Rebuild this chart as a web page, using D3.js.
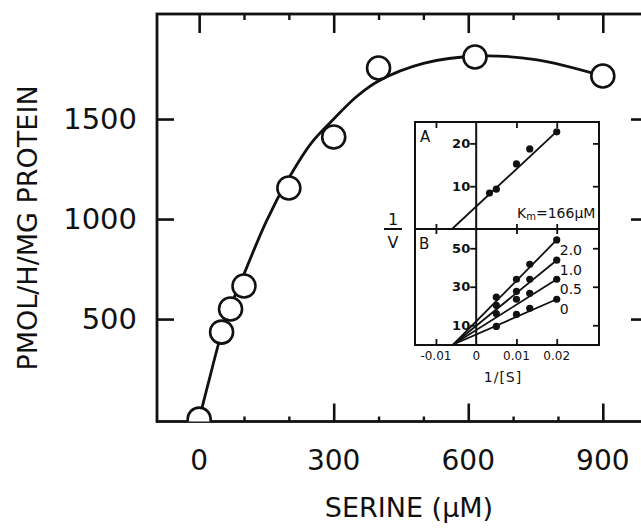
<!DOCTYPE html>
<html><head><meta charset="utf-8">
<script src="https://cdn.jsdelivr.net/npm/d3@7"></script>
<style>body{margin:0;background:#fff}svg{display:block}text{font-family:"DejaVu Sans",sans-serif;fill:#111}</style>
</head><body>
<svg id="c" width="641" height="531"></svg>
<script>
// ---- main plot data ----
const serine = [0, 50, 70, 100, 200, 300, 400, 615, 900];
const activity = [0, 435, 550, 665, 1155, 1410, 1755, 1810, 1715];
const curveSerine = [0, 25, 50, 75, 100, 150, 200, 250, 300, 350, 400, 500, 620, 750, 900];
const curveActivity = [0, 220, 430, 590, 725, 990, 1205, 1380, 1500, 1610, 1690, 1778, 1815, 1797, 1715];
const xMajorTicks = [0, 300, 600, 900];
const xMinorTicks = [100, 200, 400, 500, 700, 800];
const yMajorTicks = [500, 1000, 1500];
const xTickLabels = ["0", "300", "600", "900"];
const yTickLabels = ["500", "1000", "1500"];

// ---- inset panel A ----
const invSA = [0.0033, 0.005, 0.01, 0.0133, 0.02];
const invVA = [8.4, 9.3, 15.2, 18.7, 22.7];
const lineAX = [-0.006, 0.0205];
const lineAY = [0, 23.2];
// ---- inset panel B ----
const invSB = [0.005, 0.01, 0.0133, 0.02];
const seriesB = {
  "2.0": [24.6, 33.9, 41.7, 54.3],
  "1.0": [20.3, 27.6, 33.9, 43.8],
  "0.5": [16.0, 23.5, 26.6, 33.9],
  "0":   [9.4, 15.6, 18.8, 23.5]
};
const bNames = ["2.0", "1.0", "0.5", "0"];
const lineBStart = -0.0057;
const insetXTicks = [-0.01, 0.01, 0.02];
const insetXLabelVals = [-0.01, 0, 0.01, 0.02];
const insetXLabels = ["-0.01", "0", "0.01", "0.02"];
const insetATicks = [10, 20];
const insetBTicks = [10, 30, 50];

const svg = d3.select('#c');
const L = 157, R = 649, T = 14, B = 421.5;
const x = d3.scaleLinear().domain([-94, 1003]).range([L, R]);
const y = d3.scaleLinear().domain([-12, 2025]).range([B, T]);

const ink = "#111";
function styleAxis(g, w) {
  g.select(".domain").remove();
  g.selectAll(".tick line").attr("stroke", ink).attr("stroke-width", w);
  g.selectAll(".tick text").remove();
}

// clip
svg.append("defs").append("clipPath").attr("id", "plotclip")
  .append("rect").attr("x", L).attr("y", T).attr("width", R - L).attr("height", B - T);

// main ticks
svg.append("g").attr("transform", `translate(0,${B})`)
  .call(d3.axisBottom(x).tickValues(xMajorTicks.slice(1)).tickSize(-18).tickSizeOuter(0)).call(g => styleAxis(g, 2.6));
svg.append("g").attr("transform", `translate(0,${B})`)
  .call(d3.axisBottom(x).tickValues(xMinorTicks).tickSize(-5).tickSizeOuter(0)).call(g => styleAxis(g, 2.4));
svg.append("g").attr("transform", `translate(0,${T})`)
  .call(d3.axisTop(x).tickValues(xMajorTicks).tickSize(-19).tickSizeOuter(0)).call(g => styleAxis(g, 2.6));
svg.append("g").attr("transform", `translate(0,${T})`)
  .call(d3.axisTop(x).tickValues(xMinorTicks).tickSize(-6).tickSizeOuter(0)).call(g => styleAxis(g, 2.4));
svg.append("g").attr("transform", `translate(${L},0)`)
  .call(d3.axisLeft(y).tickValues(yMajorTicks).tickSize(-17).tickSizeOuter(0)).call(g => styleAxis(g, 2.6));
svg.append("g").attr("transform", `translate(${R},0)`)
  .call(d3.axisRight(y).tickValues(yMajorTicks).tickSize(-18).tickSizeOuter(0)).call(g => styleAxis(g, 2.6));

// frame
svg.append("rect").attr("x", L).attr("y", T).attr("width", R - L).attr("height", B - T)
  .attr("fill", "none").attr("stroke", ink).attr("stroke-width", 2.8);

// tick labels
svg.selectAll(".xl").data(xMajorTicks).enter().append("text")
  .attr("x", d => x(d)).attr("y", 460).attr("text-anchor", "middle")
  .attr("dominant-baseline", "central").attr("font-size", 28).text((d, i) => xTickLabels[i]);
svg.selectAll(".yl").data(yMajorTicks).enter().append("text")
  .attr("x", 137).attr("y", d => y(d)).attr("text-anchor", "end")
  .attr("dominant-baseline", "central").attr("font-size", 29).text((d, i) => yTickLabels[i]);

// axis titles
svg.append("text").attr("x", 409).attr("y", 507).attr("text-anchor", "middle")
  .attr("dominant-baseline", "central").attr("font-size", 27).text("SERINE (μM)");
svg.append("text").attr("transform", "translate(27,228) rotate(-90)").attr("text-anchor", "middle")
  .attr("dominant-baseline", "central").attr("font-size", 27).text("PMOL/H/MG PROTEIN");

// curve
const curvePts = curveSerine.map((s, i) => [s, curveActivity[i]]);
svg.append("path").attr("clip-path", "url(#plotclip)")
  .attr("d", d3.line().x(d => x(d[0])).y(d => y(d[1])).curve(d3.curveCatmullRom)(curvePts))
  .attr("fill", "none").attr("stroke", ink).attr("stroke-width", 2.8);

// circles
svg.append("g").attr("clip-path", "url(#plotclip)").selectAll("circle")
  .data(serine.map((s, i) => [s, activity[i]])).enter().append("circle")
  .attr("cx", d => x(d[0])).attr("cy", d => y(d[1])).attr("r", 11.5)
  .attr("fill", "#fff").attr("stroke", ink).attr("stroke-width", 2.6);

// ---- inset ----
const iL = 415, iR = 599, iT = 122, iB = 345, iM = 229;
const ix = d3.scaleLinear().domain([-0.0152, 0.0305]).range([iL, iR]);
const iyA = d3.scaleLinear().domain([0, 25]).range([iM, iT]);
const iyB = d3.scaleLinear().domain([0, 60]).range([344.5, iM]);
const inset = svg.append("g");
inset.append("rect").attr("x", iL).attr("y", iT).attr("width", iR - iL).attr("height", iB - iT)
  .attr("fill", "#fff").attr("stroke", ink).attr("stroke-width", 2);
inset.append("line").attr("x1", iL).attr("x2", iR).attr("y1", iM).attr("y2", iM)
  .attr("stroke", ink).attr("stroke-width", 2);
inset.append("line").attr("x1", ix(0)).attr("x2", ix(0)).attr("y1", iT).attr("y2", iB)
  .attr("stroke", ink).attr("stroke-width", 2);

inset.append("g").attr("transform", `translate(0,${iT})`)
  .call(d3.axisTop(ix).tickValues(insetXTicks).tickSize(-6).tickSizeOuter(0)).call(g => styleAxis(g, 1.8));
inset.append("g").attr("transform", `translate(0,${iM})`)
  .call(d3.axisTop(ix).tickValues(insetXTicks).tickSize(5).tickSizeOuter(0)).call(g => styleAxis(g, 1.8));
inset.append("g").attr("transform", `translate(0,${iM})`)
  .call(d3.axisBottom(ix).tickValues(insetXTicks).tickSize(5).tickSizeOuter(0)).call(g => styleAxis(g, 1.8));
inset.append("g").attr("transform", `translate(0,${iB})`)
  .call(d3.axisBottom(ix).tickValues(insetXTicks).tickSize(-6).tickSizeOuter(0)).call(g => styleAxis(g, 1.8));
inset.append("g").attr("transform", `translate(${ix(0)},0)`)
  .call(d3.axisLeft(iyA).tickValues(insetATicks).tickSize(6).tickSizeOuter(0)).call(g => styleAxis(g, 1.8));
inset.append("g").attr("transform", `translate(${ix(0)},0)`)
  .call(d3.axisLeft(iyB).tickValues(insetBTicks).tickSize(6).tickSizeOuter(0)).call(g => styleAxis(g, 1.8));
inset.append("g").attr("transform", `translate(${iR},0)`)
  .call(d3.axisRight(iyA).tickValues(insetATicks).tickSize(-6).tickSizeOuter(0)).call(g => styleAxis(g, 1.8));
inset.append("g").attr("transform", `translate(${iR},0)`)
  .call(d3.axisRight(iyB).tickValues(insetBTicks).tickSize(-6).tickSizeOuter(0)).call(g => styleAxis(g, 1.8));

// inset y labels
inset.selectAll(".ya").data(insetATicks).enter().append("text")
  .attr("x", ix(0) - 6).attr("y", d => iyA(d)).attr("text-anchor", "end")
  .attr("dominant-baseline", "central").attr("font-size", 13).attr("font-weight", "bold").text(d => d);
inset.selectAll(".yb").data(insetBTicks).enter().append("text")
  .attr("x", ix(0) - 6).attr("y", d => iyB(d)).attr("text-anchor", "end")
  .attr("dominant-baseline", "central").attr("font-size", 13).attr("font-weight", "bold").text(d => d);
// inset x labels
inset.selectAll(".xi").data(insetXLabelVals).enter().append("text")
  .attr("x", d => ix(d)).attr("y", 356).attr("text-anchor", "middle")
  .attr("dominant-baseline", "central").attr("font-size", 12).text((d, i) => insetXLabels[i]);
inset.append("text").attr("x", 503).attr("y", 377).attr("text-anchor", "middle")
  .attr("dominant-baseline", "central").attr("font-size", 14).attr("letter-spacing", 1).text("1/[S]");

// panel letters
inset.append("text").attr("x", 420).attr("y", 137).attr("dominant-baseline", "central")
  .attr("font-size", 15).text("A");
inset.append("text").attr("x", 419).attr("y", 244).attr("dominant-baseline", "central")
  .attr("font-size", 15).text("B");
// Km
const km = inset.append("text").attr("x", 517).attr("y", 213).attr("dominant-baseline", "central").attr("font-size", 14);
km.append("tspan").text("K");
km.append("tspan").attr("font-size", 10).attr("dy", 3).text("m");
km.append("tspan").attr("dy", -3).text("=166μM");
// 1/V
svg.append("text").attr("x", 393).attr("y", 219).attr("text-anchor", "middle")
  .attr("dominant-baseline", "central").attr("font-size", 16).text("1");
svg.append("line").attr("x1", 384).attr("x2", 402).attr("y1", iM).attr("y2", iM)
  .attr("stroke", ink).attr("stroke-width", 2);
svg.append("text").attr("x", 393).attr("y", 242).attr("text-anchor", "middle")
  .attr("dominant-baseline", "central").attr("font-size", 16).text("V");

// panel A line + dots
inset.append("line").attr("x1", ix(lineAX[0])).attr("y1", iyA(lineAY[0]))
  .attr("x2", ix(lineAX[1])).attr("y2", iyA(lineAY[1])).attr("stroke", ink).attr("stroke-width", 1.8);
inset.selectAll(".da").data(invSA.map((s, i) => [s, invVA[i]])).enter().append("circle")
  .attr("cx", d => ix(d[0])).attr("cy", d => iyA(d[1])).attr("r", 3.6).attr("fill", ink);

// panel B lines + dots + labels
bNames.forEach(name => {
  const vals = seriesB[name];
  const pts = [[lineBStart, 0], [invSB[invSB.length - 1], vals[vals.length - 1]]];
  inset.append("path").attr("d", d3.line().x(d => ix(d[0])).y(d => iyB(d[1]))(pts))
    .attr("fill", "none").attr("stroke", ink).attr("stroke-width", 1.8);
  inset.selectAll(null).data(invSB.map((s, i) => [s, vals[i]])).enter().append("circle")
    .attr("cx", d => ix(d[0])).attr("cy", d => iyB(d[1])).attr("r", 3.6).attr("fill", ink);
  inset.append("text").attr("x", ix(0.02) + 3).attr("y", iyB(vals[vals.length - 1]) + 10)
    .attr("dominant-baseline", "central").attr("font-size", 14).text(name);
});
</script>
</body></html>
